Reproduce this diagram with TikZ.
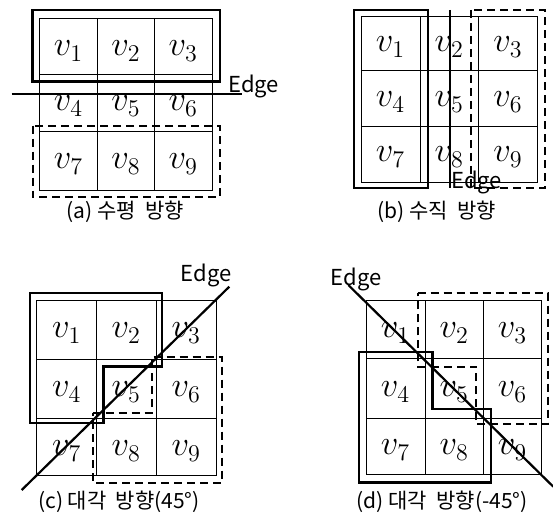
\documentclass[tikz,border=0pt]{standalone}
\usepackage{amsmath,amssymb}
\usepackage{fontspec}
\newfontfamily\kor{Noto Sans CJK KR}
\usepackage{tikz}
\usetikzlibrary{calc}

\tikzset{
  grid/.style={line width=0.5pt},
  cellv/.style={font=\fontsize{17}{20}\selectfont},
  groupbox/.style={line width=1.2pt},
  groupdash/.style={line width=0.9pt, dash pattern=on 4pt off 2.5pt},
  edgeline/.style={line width=1.1pt},
  edgelabel/.style={font=\kor\fontsize{11}{13}\selectfont, inner sep=0pt},
  caption/.style={font=\kor\fontsize{10.5}{12}\selectfont, inner sep=0pt}
}

\begin{document}
\begin{tikzpicture}[x=0.5pt,y=-0.5pt]

\useasboundingbox (0,0) rectangle (553,518);

% (a) Horizontal
\draw[grid] (39.3,18.3) rectangle (212,190.7);
\draw[grid] (97.7,18.3)--(97.7,190.7);
\draw[grid] (154.3,18.3)--(154.3,190.7);
\draw[grid] (39.3,75)--(212,75);
\draw[grid] (39.3,132)--(212,132);
\node[cellv] (a1) at (68.5,51) {$v_1$};
\node[cellv] (a2) at (126,51) {$v_2$};
\node[cellv] (a3) at (183.2,51) {$v_3$};
\node[cellv] (a4) at (68.5,106) {$v_4$};
\node[cellv] (a5) at (126,106) {$v_5$};
\node[cellv] (a6) at (183.2,106) {$v_6$};
\node[cellv] (a7) at (68.5,164) {$v_7$};
\node[cellv] (a8) at (126,164) {$v_8$};
\node[cellv] (a9) at (183.2,164) {$v_9$};
\draw[groupbox] (32.3,10) rectangle (220,81.7);
\draw[groupdash] (33,125.7) rectangle (220,197.3);
\coordinate (aEs) at (11.7,94.3);
\coordinate (aEe) at (242,94.3);
\draw[edgeline] (aEs)--(aEe);
\node[edgelabel, anchor=west] (aE) at (228,86) {Edge};
\node[caption] (capa) at (125,212) {(a) 수평\ \ 방향};

% (b) Vertical
\draw[grid] (361,16.7) rectangle (537.7,182.7);
\draw[grid] (420,16.7)--(420,182.7);
\draw[grid] (478.3,16.7)--(478.3,182.7);
\draw[grid] (361,71)--(537.7,71);
\draw[grid] (361,126.7)--(537.7,126.7);
\node[cellv] (b1) at (390.5,47) {$v_1$};
\node[cellv] (b2) at (449.2,47) {$v_2$};
\node[cellv] (b3) at (508,47) {$v_3$};
\node[cellv] (b4) at (390.5,102) {$v_4$};
\node[cellv] (b5) at (449.2,102) {$v_5$};
\node[cellv] (b6) at (508,102) {$v_6$};
\node[cellv] (b7) at (390.5,157) {$v_7$};
\node[cellv] (b8) at (449.2,157) {$v_8$};
\node[cellv] (b9) at (508,157) {$v_9$};
\draw[groupbox] (354,10) rectangle (427.7,188.3);
\draw[groupdash] (470.7,10) rectangle (545,188.3);
\coordinate (bEs) at (450,10);
\coordinate (bEe) at (450,188);
\draw[edgeline] (bEs)--(bEe);
\node[edgelabel, anchor=west] (bE) at (451,182) {Edge};
\node[caption] (capb) at (437,212) {(b) 수직\ \ 방향};

% (c) Diagonal 45
\draw[grid] (36.7,300.7) rectangle (216.7,476);
\draw[grid] (96.7,300.7)--(96.7,476);
\draw[grid] (156,300.7)--(156,476);
\draw[grid] (36.7,359.3)--(216.7,359.3);
\draw[grid] (36.7,419)--(216.7,419);
\node[cellv] (c1) at (66.7,333) {$v_1$};
\node[cellv] (c2) at (126.3,333) {$v_2$};
\node[cellv] (c3) at (186.3,333) {$v_3$};
\node[cellv] (c4) at (66.7,392) {$v_4$};
\node[cellv] (c5) at (126.3,392) {$v_5$};
\node[cellv] (c6) at (186.3,392) {$v_6$};
\node[cellv] (c7) at (66.7,451) {$v_7$};
\node[cellv] (c8) at (126.3,451) {$v_8$};
\node[cellv] (c9) at (186.3,451) {$v_9$};
\draw[groupbox] (30,293.3)--(161.7,293.3)--(161.7,366.7)--(103.3,366.7)
  --(103.3,423.3)--(30,423.3)--cycle;
\draw[groupdash] (92.7,412.7)--(151.7,412.7)--(151.7,356.7)--(221.7,356.7)
  --(221.7,482.7)--(92.7,482.7)--cycle;
\coordinate (cEs) at (21.7,490);
\coordinate (cEe) at (229.3,286.7);
\draw[edgeline] (cEs)--(cEe);
\node[edgelabel] (cE) at (206,275) {Edge};
\node[caption] (capc) at (119,502) {(c) 대각\ \ 방향(45°)};

% (d) Diagonal -45
\draw[grid] (366,300.7) rectangle (541.7,475);
\draw[grid] (425,300.7)--(425,475);
\draw[grid] (483.3,300.7)--(483.3,475);
\draw[grid] (366,359)--(541.7,359);
\draw[grid] (366,418.3)--(541.7,418.3);
\node[cellv] (d1) at (395.5,333) {$v_1$};
\node[cellv] (d2) at (454.2,333) {$v_2$};
\node[cellv] (d3) at (512.5,333) {$v_3$};
\node[cellv] (d4) at (395.5,392) {$v_4$};
\node[cellv] (d5) at (454.2,392) {$v_5$};
\node[cellv] (d6) at (512.5,392) {$v_6$};
\node[cellv] (d7) at (395.5,450) {$v_7$};
\node[cellv] (d8) at (454.2,450) {$v_8$};
\node[cellv] (d9) at (512.5,450) {$v_9$};
\draw[groupbox] (359,352.3)--(432.3,352.3)--(432.3,409)--(490.7,409)
  --(490.7,482.7)--(359,482.7)--cycle;
\draw[groupdash] (417.7,293.3)--(548.3,293.3)--(548.3,424.3)--(476,424.3)
  --(476,366.7)--(417.7,366.7)--cycle;
\coordinate (dEs) at (348.3,285);
\coordinate (dEe) at (553.3,486.7);
\draw[edgeline] (dEs)--(dEe);
\node[edgelabel] (dE) at (356,279) {Edge};
\node[caption] (capd) at (442,502) {(d) 대각\ \ 방향(-45°)};

\end{tikzpicture}
\end{document}
